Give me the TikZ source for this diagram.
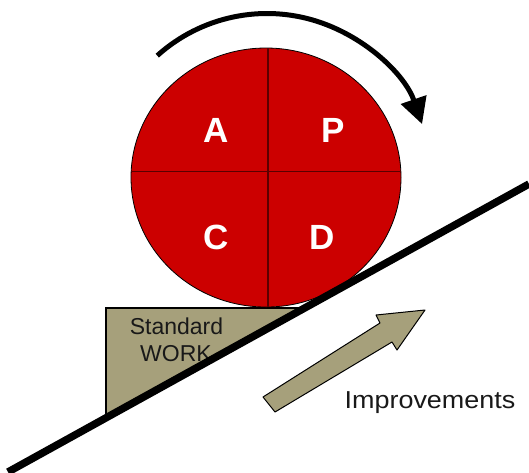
\documentclass[tikz,border=0pt]{standalone}
\usepackage{fontspec}
\setmainfont{Liberation Sans}
\usetikzlibrary{arrows.meta,shapes.geometric}
\definecolor{pdcared}{RGB}{204,0,0}
\definecolor{khaki}{RGB}{166,160,123}
\definecolor{divline}{RGB}{90,0,0}
\definecolor{txtdark}{RGB}{25,25,25}
\tikzset{
  letter/.style={text=white, inner sep=0pt, font=\bfseries\fontsize{35}{35}\selectfont},
  lbl/.style={text=txtdark, inner sep=0pt, anchor=base},
  slope/.style={line width=7.5pt, black},
  shade/.style={fill=khaki, draw=black, line width=1pt, line join=round},
}
\begin{document}
\begin{tikzpicture}[x=1pt,y=-1pt]
\useasboundingbox (0,0) rectangle (529,472);
% standard work wedge
\coordinate (w1) at (106,308);
\coordinate (w2) at (300,308);
\coordinate (w3) at (106,420);
\fill[khaki] (w1) -- (w2) -- (w3) -- cycle;
\draw[black, line width=1.2pt] (w2) -- (w1) -- (w3);
\node[lbl, font=\fontsize{23}{23}\selectfont] (std) at (176.5,334.3) {Standard};
\node[lbl, font=\fontsize{23}{23}\selectfont] (work) at (176,361.7) {WORK};
% PDCA circle
\node[ellipse, draw=black, line width=0.8pt, fill=pdcared, minimum width=270pt, minimum height=259pt, inner sep=0pt] (cyc) at (266,177.5) {};
\draw[divline, line width=1.3pt] (268,48.2) -- (268,306.8);
\draw[divline, line width=1.3pt] (131.3,171.7) -- (400.7,171.7);
\node[letter] (a) at (216.5,130.5) {A};
\node[letter] (p) at (333,130.5) {P};
\node[letter] (c) at (216.5,237) {C};
\node[letter] (d) at (322.5,237) {D};
% cycle arrow
\draw[line width=5pt, -{Triangle[length=26pt, width=26pt]}] (267,177.5) ++(-132:164) arc[start angle=-132, end angle=-19, radius=164];
% slope line
\coordinate (s1) at (8,472);
\coordinate (s2) at (529,184);
\draw[slope] (s1) -- (s2);
% improvements arrow
\draw[shade] (263,397) -- (380,323) -- (376,315) -- (425,310) -- (397,350) -- (392,342) -- (275,412) -- cycle;
\node[lbl, font=\fontsize{24.5}{24.5}\selectfont, xscale=1.1] (imp) at (430,408.3) {Improvements};
\end{tikzpicture}
\end{document}
